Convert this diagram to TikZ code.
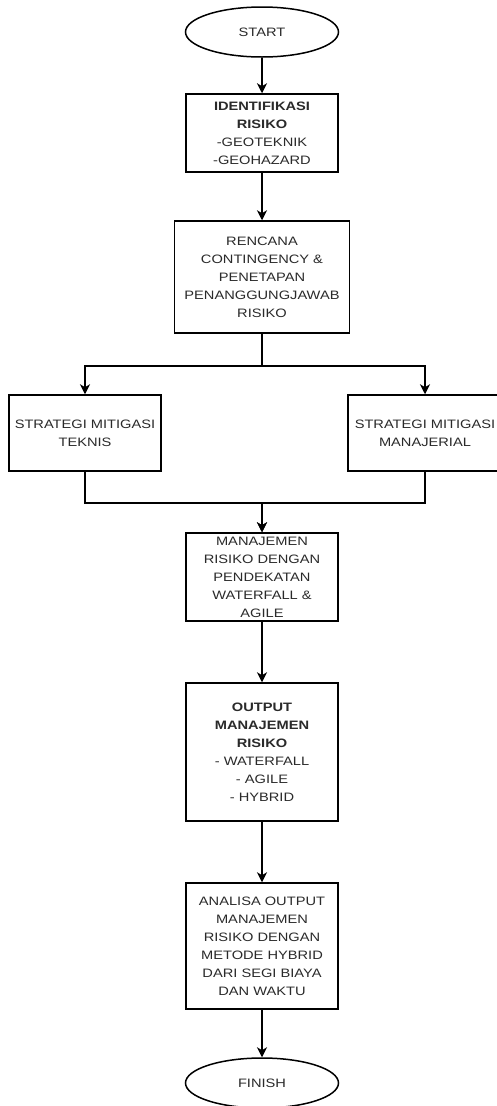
\documentclass[tikz,border=0pt]{standalone}
\usepackage{fontspec}
\setmainfont{Liberation Sans}[FakeStretch=1.2]
\usetikzlibrary{shapes.geometric,arrows.meta}
\definecolor{txt}{HTML}{2A2A2A}

\begin{document}
\begin{tikzpicture}[x=1pt,y=-1pt,
  lbl/.style={text=txt, font=\fontsize{12.2}{18}\selectfont, align=center},
  box/.style={lbl, draw=black, line width=1.5pt, rectangle, minimum width=152pt, inner sep=0pt},
  term/.style={lbl, draw=black, line width=1.5pt, ellipse, minimum width=153pt, minimum height=50pt, inner sep=0pt},
  arr/.style={line width=1.5pt, -{Stealth[length=10pt,width=10pt,inset=3pt]}}]

\useasboundingbox (0,0) rectangle (496,1106);
\fill[white] (0,0) rectangle (496,1106);

% flow nodes
\node[term] (start) at (262,32) {START};
\node[box, minimum height=78pt] (ident) at (262,133)
  {\textbf{IDENTIFIKASI}\\\textbf{RISIKO}\\-GEOTEKNIK\\-GEOHAZARD};
\node[box, minimum width=175pt, minimum height=112pt] (rencana) at (262,277)
  {RENCANA\\CONTINGENCY \&\\PENETAPAN\\PENANGGUNGJAWAB\\RISIKO};
\node[box, minimum height=76pt] (teknis) at (85,433)
  {STRATEGI MITIGASI\\TEKNIS};
\node[box, minimum width=154pt, minimum height=76pt] (manajerial) at (425,433)
  {STRATEGI MITIGASI\\MANAJERIAL};
\node[box, minimum height=88pt] (manajemen) at (262,577)
  {MANAJEMEN\\RISIKO DENGAN\\PENDEKATAN\\WATERFALL \&\\AGILE};
\node[box, minimum height=138pt] (output) at (262,752)
  {\textbf{OUTPUT}\\\textbf{MANAJEMEN}\\\textbf{RISIKO}\\- WATERFALL\\- AGILE\\- HYBRID};
\node[box, minimum height=126pt] (analisa) at (262,946)
  {ANALISA OUTPUT\\MANAJEMEN\\RISIKO DENGAN\\METODE HYBRID\\DARI SEGI BIAYA\\DAN WAKTU};
\node[term] (finish) at (262,1083) {FINISH};

% connectors
\draw[arr] (start) -- (ident);
\draw[arr] (ident) -- (rencana);
\draw[arr] (rencana.south) -- ++(0,32) -| (teknis.north);
\draw[arr] (rencana.south) -- ++(0,32) -| (manajerial.north);
\draw[arr] (teknis.south) -- ++(0,31) -| (manajemen.north);
\draw[arr] (manajerial.south) -- ++(0,31) -| (manajemen.north);
\draw[arr] (manajemen) -- (output);
\draw[arr] (output) -- (analisa);
\draw[arr] (analisa) -- (finish);
\end{tikzpicture}
\end{document}
